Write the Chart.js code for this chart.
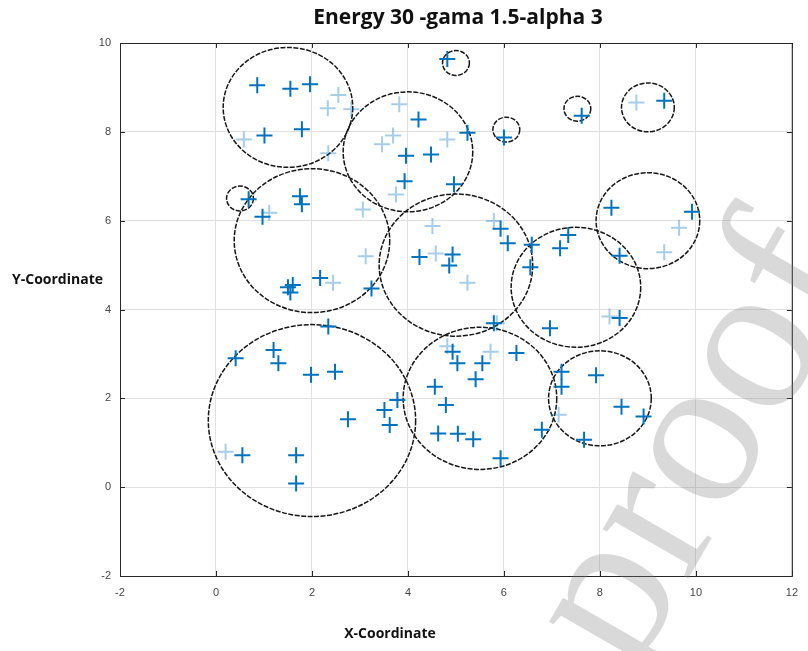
<!DOCTYPE html>
<html>
<head>
<meta charset="utf-8">
<script src="https://cdn.jsdelivr.net/npm/chart.js@4"></script>
<style>
  body { margin: 0; background: #fff; }
  canvas { display: block; }
</style>
</head>
<body>
<canvas id="grafico" width="808" height="651"></canvas>
<script>
// nodes drawn with full colour
const nodeX = [0.86, 1.55, 1.96, 1.01, 1.79,
    4.22, 3.96, 4.48, 3.93, 5.24, 4.96,
    4.82, 6.0, 7.62, 9.34,
    0.68, 0.97, 1.75, 1.79, 1.5, 1.6, 1.55, 2.17, 3.24,
    4.24, 4.93, 4.86, 5.93, 6.08, 6.58, 6.55, 7.17, 7.34, 8.41,
    6.96, 8.41, 8.24, 9.92,
    5.79, 4.93, 5.03, 5.55, 5.41, 6.26, 4.56, 4.79, 4.63, 5.04, 5.36, 5.93, 6.79,
    7.2, 7.2, 7.92, 8.45, 8.91, 7.67,
    2.34, 0.41, 1.2, 1.3, 1.98, 2.48, 2.75, 3.51, 3.78, 3.62, 0.55, 1.67, 1.67];
const nodeY = [9.05, 8.97, 9.07, 7.92, 8.06,
    8.28, 7.46, 7.49, 6.89, 7.98, 6.82,
    9.64, 7.87, 8.36, 8.7,
    6.48, 6.09, 6.55, 6.37, 4.5, 4.55, 4.38, 4.71, 4.47,
    5.18, 5.24, 4.99, 5.82, 5.49, 5.46, 4.95, 5.38, 5.68, 5.21,
    3.58, 3.81, 6.29, 6.2,
    3.69, 3.05, 2.79, 2.79, 2.43, 3.02, 2.26, 1.85, 1.21, 1.2, 1.08, 0.65, 1.29,
    2.6, 2.26, 2.52, 1.81, 1.59, 1.07,
    3.62, 2.9, 3.09, 2.79, 2.53, 2.6, 1.53, 1.74, 1.96, 1.4, 0.72, 0.72, 0.08];

// faint nodes
const faintX = [2.55, 2.33, 2.82, 0.58, 2.34, 3.82, 3.69, 3.46, 3.75, 4.82,
    8.76, 1.11, 3.06, 3.12, 2.44, 4.51, 4.58, 5.24, 5.79,
    8.2, 9.65, 9.34, 5.85, 4.82, 5.72, 7.14, 0.2];
const faintY = [8.83, 8.53, 8.51, 7.83, 7.52, 8.62, 7.92, 7.72, 6.59, 7.83,
    8.66, 6.18, 6.25, 5.2, 4.6, 5.88, 5.26, 4.6, 5.99,
    3.84, 5.84, 5.29, 3.69, 3.17, 3.05, 1.63, 0.8];

// circles: centre and radius
const circleX = [1.5, 4.0, 0.5, 2.0, 5.0, 5.0, 6.05, 7.53, 9.0, 9.0, 7.5, 2.0, 5.5, 8.0];
const circleY = [8.55, 7.55, 6.5, 5.55, 5.0, 9.55, 8.05, 8.52, 8.55, 6.0, 4.5, 1.5, 2.0, 2.0];
const circleR = [1.35, 1.35, 0.28, 1.62, 1.6, 0.28, 0.28, 0.28, 0.55, 1.08, 1.35, 2.16, 1.6, 1.07];

const xTicks = [-2, 0, 2, 4, 6, 8, 10, 12];
const yTicks = [-2, 0, 2, 4, 6, 8, 10];

const titulo = 'Energy 30 -gama 1.5-alpha 3';
const rotuloX = 'X-Coordinate';
const rotuloY = 'Y-Coordinate';
const marcaAgua = 'Journal Pre-proof';

const circulos = {
    id: 'circulos',
    beforeDatasetsDraw(chart) {
        const { ctx, scales: { x, y } } = chart;
        ctx.save();
        ctx.strokeStyle = '#161616';
        ctx.lineWidth = 1.5;
        ctx.setLineDash([5, 1.5]);
        for (let i = 0; i < circleX.length; i++) {
            const cx = x.getPixelForValue(circleX[i]);
            const cy = y.getPixelForValue(circleY[i]);
            const rx = Math.abs(x.getPixelForValue(circleX[i] + circleR[i]) - cx);
            const ry = Math.abs(y.getPixelForValue(circleY[i] + circleR[i]) - cy);
            ctx.beginPath();
            ctx.ellipse(cx, cy, rx, ry, 0, 0, Math.PI * 2);
            ctx.stroke();
        }
        ctx.restore();
    }
};

const moldura = {
    id: 'moldura',
    afterDraw(chart) {
        const { ctx, chartArea: a, scales: { x, y } } = chart;
        ctx.save();
        ctx.strokeStyle = '#262626';
        ctx.lineWidth = 1;
        ctx.strokeRect(a.left + 0.5, a.top + 0.5, a.right - a.left, a.bottom - a.top);
        ctx.beginPath();
        xTicks.forEach(v => {
            const px = Math.round(x.getPixelForValue(v)) + 0.5;
            ctx.moveTo(px, a.bottom); ctx.lineTo(px, a.bottom - 5);
            ctx.moveTo(px, a.top); ctx.lineTo(px, a.top + 5);
        });
        yTicks.forEach(v => {
            const py = Math.round(y.getPixelForValue(v)) + 0.5;
            ctx.moveTo(a.left, py); ctx.lineTo(a.left + 5, py);
            ctx.moveTo(a.right, py); ctx.lineTo(a.right - 5, py);
        });
        ctx.stroke();

        // textos
        ctx.fillStyle = '#111';
        ctx.textAlign = 'center';
        ctx.textBaseline = 'middle';
        ctx.font = 'bold 21px "Open Sans"';
        ctx.fillText(titulo, 458, 18);
        ctx.font = 'bold 14px "Open Sans"';
        ctx.fillText(rotuloX, 390, 634);
        ctx.textAlign = 'left';
        ctx.fillText(rotuloY, 12, 280);

        // marca de agua
        ctx.translate(865, 272);
        ctx.rotate(-Math.PI / 3);
        ctx.font = '215px "Liberation Serif"';
        ctx.textAlign = 'right';
        ctx.textBaseline = 'alphabetic';
        ctx.fillStyle = 'rgba(128,128,128,0.3)';
        ctx.fillText(marcaAgua, 0, 0);
        ctx.restore();
    }
};

const ctx = document.getElementById('grafico').getContext('2d');
const grafico = new Chart(ctx, {
    type: 'scatter',
    data: {
        datasets: [{
            label: 'nodes',
            data: nodeX.map((v, i) => ({ x: v, y: nodeY[i] })),
            pointStyle: 'cross',
            pointRadius: 8,
            borderColor: 'rgb(0,114,189)',
            borderWidth: 2
        }, {
            label: 'faint',
            data: faintX.map((v, i) => ({ x: v, y: faintY[i] })),
            pointStyle: 'cross',
            pointRadius: 8,
            borderColor: 'rgba(0,114,189,0.35)',
            borderWidth: 2
        }]
    },
    options: {
        responsive: false,
        animation: false,
        devicePixelRatio: 1,
        layout: { padding: { top: 43, right: 11, left: 0, bottom: 0 } },
        plugins: {
            legend: { display: false },
            tooltip: { enabled: false }
        },
        scales: {
            x: {
                type: 'linear',
                min: -2, max: 12,
                afterBuildTicks: s => { s.ticks = xTicks.map(v => ({ value: v })); },
                afterFit: s => { s.height = 75; },
                ticks: { color: '#444', font: { family: 'Liberation Sans', size: 11 }, padding: 10 },
                grid: { color: '#e0e0e0', drawTicks: false },
                border: { display: false }
            },
            y: {
                type: 'linear',
                min: -2, max: 10,
                afterBuildTicks: s => { s.ticks = yTicks.map(v => ({ value: v })); },
                afterFit: s => { s.width = 120; },
                ticks: { color: '#444', font: { family: 'Liberation Sans', size: 11 }, padding: 9 },
                grid: { color: '#e0e0e0', drawTicks: false },
                border: { display: false }
            }
        }
    },
    plugins: [circulos, moldura]
});
</script>
</body>
</html>
